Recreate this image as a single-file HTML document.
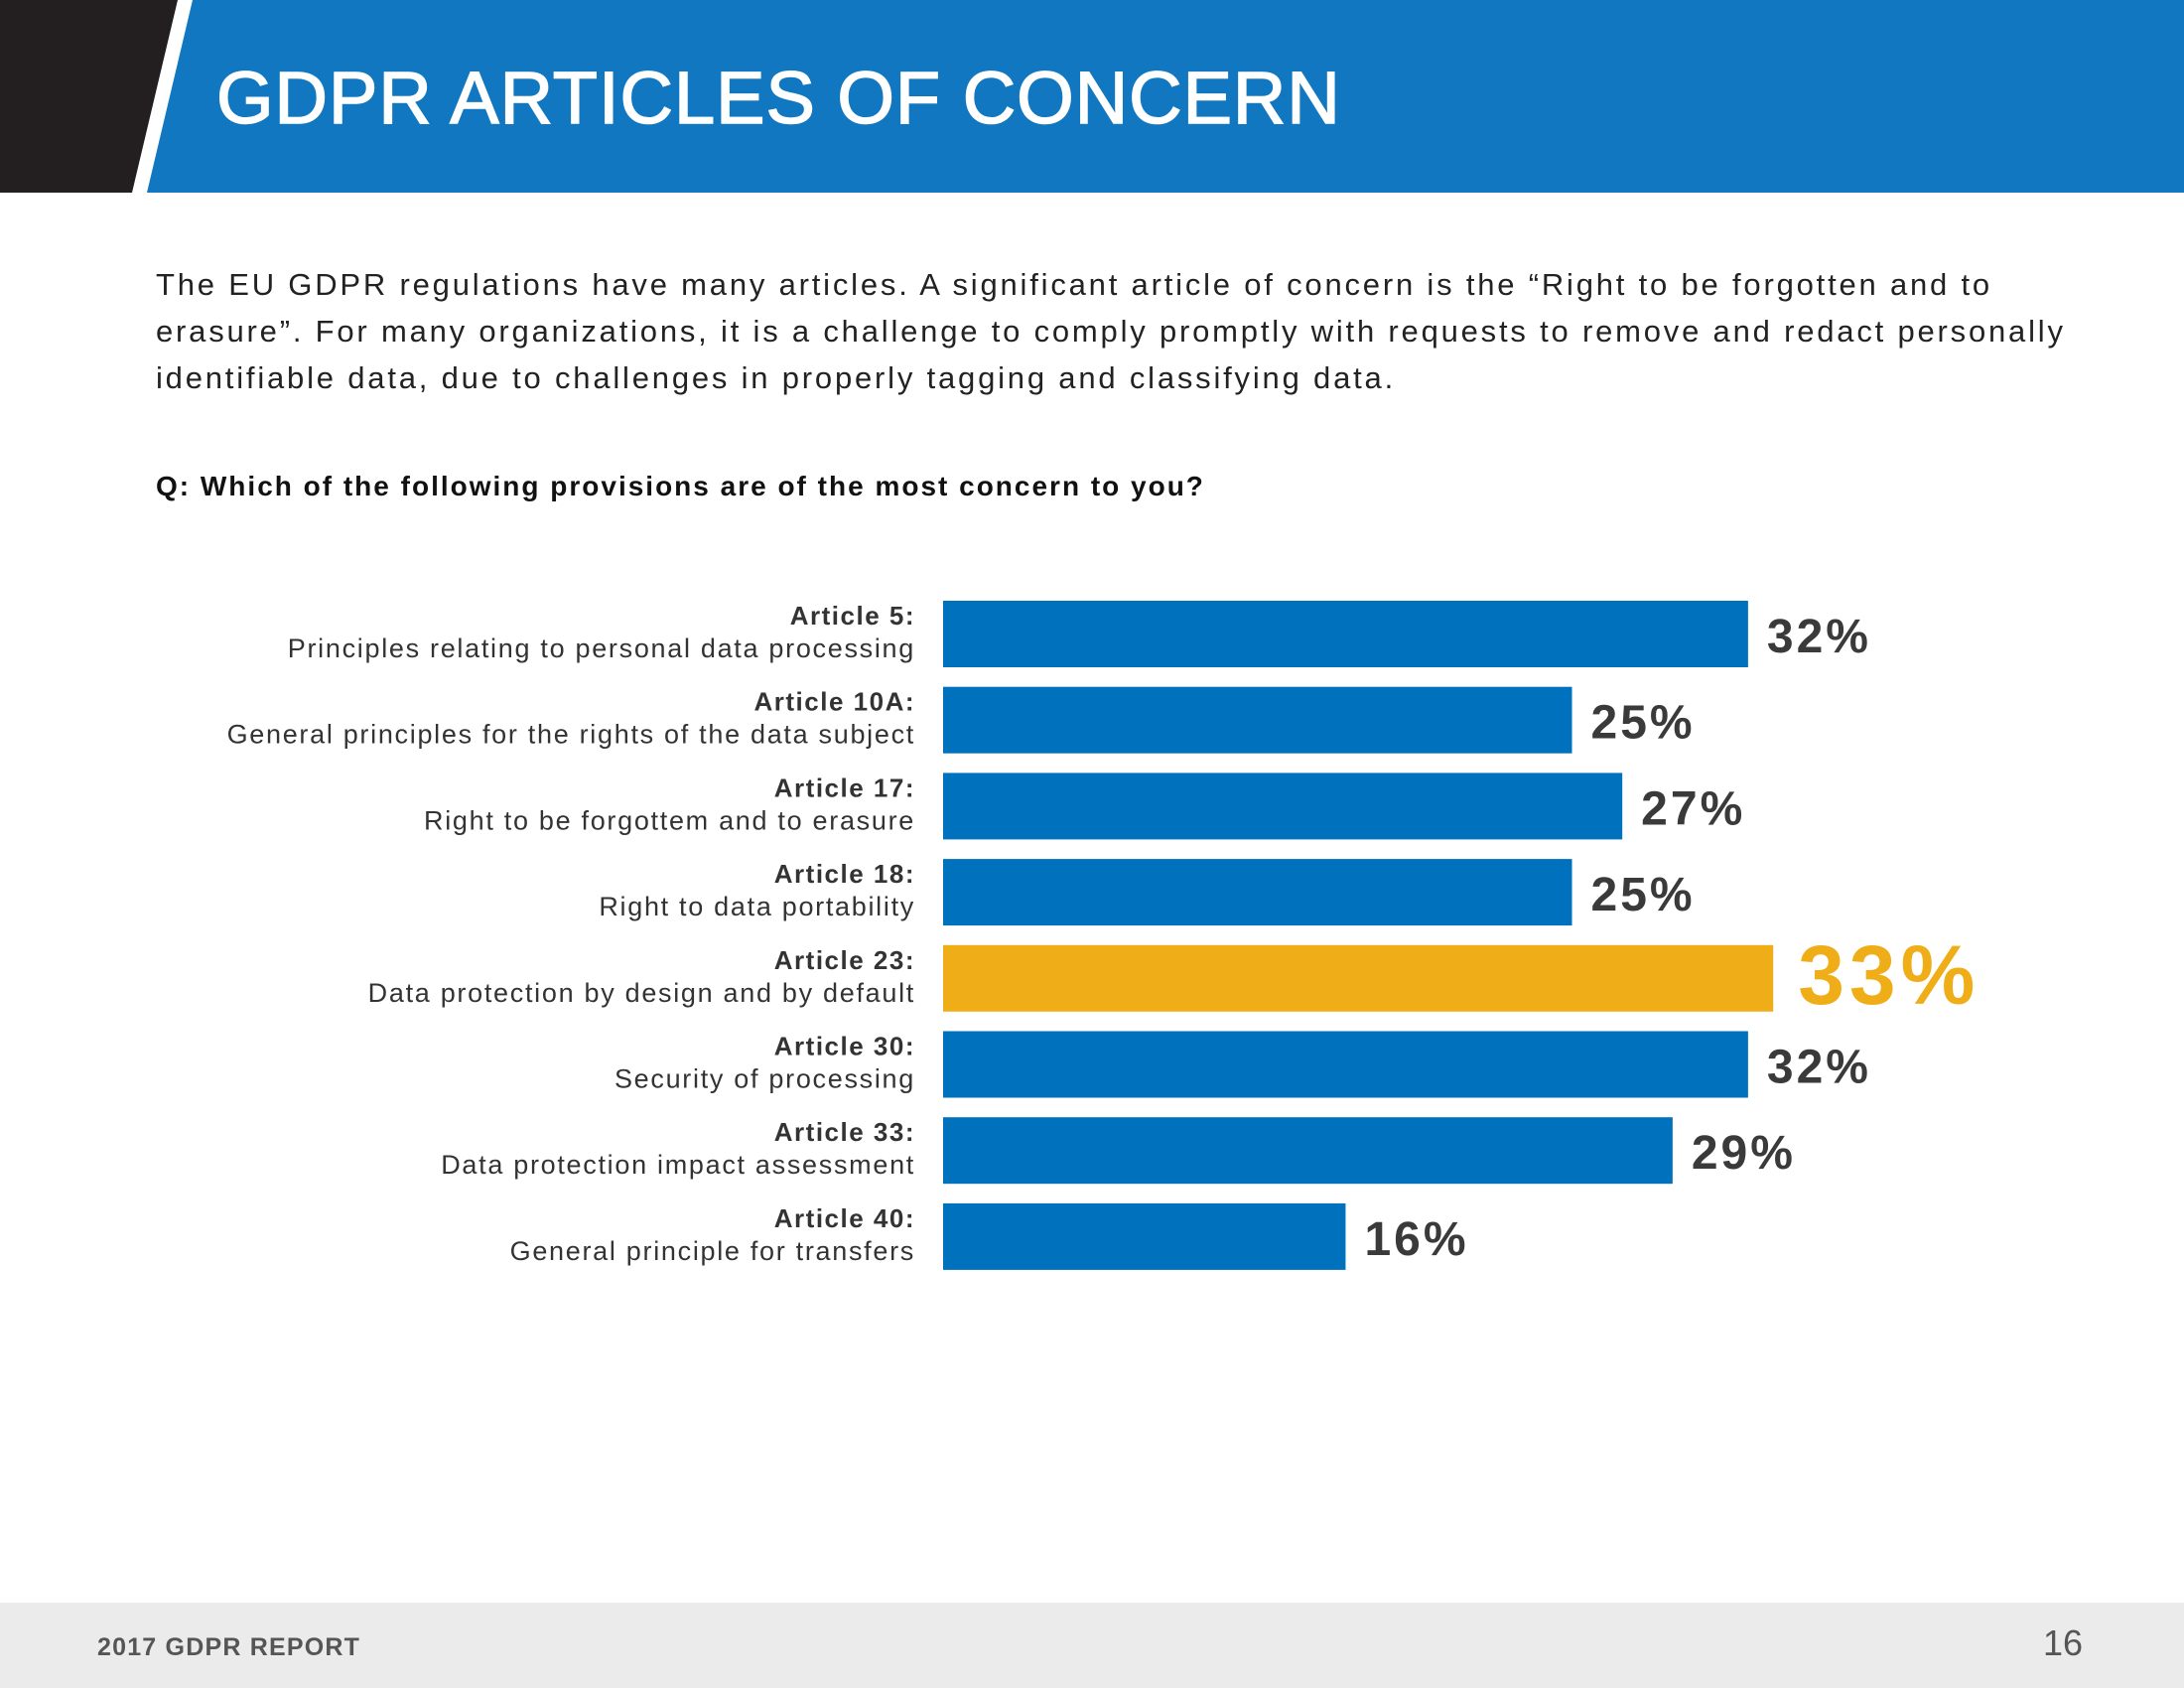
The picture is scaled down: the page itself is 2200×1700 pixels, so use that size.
<!DOCTYPE html>
<html><head><meta charset="utf-8"><style>
body{margin:0;width:2200px;height:1700px;position:relative;background:#fff;font-family:"Liberation Sans",sans-serif;overflow:hidden}
.abs{position:absolute}
</style></head><body>
<svg class="abs" style="left:0;top:0" width="2200" height="194">
<polygon points="0,0 179,0 133,194 0,194" fill="#231f20"/>
<polygon points="194,0 2200,0 2200,194 148,194" fill="#1077c0"/>
</svg>
<div class="abs" style="left:218px;top:54px;font-size:74px;color:#fff;letter-spacing:1px;line-height:90px;-webkit-text-stroke:1.5px #fff">GDPR ARTICLES OF CONCERN</div>
<div class="abs" style="left:157px;top:263px;width:2040px;font-size:31px;line-height:47px;color:#222;letter-spacing:2.8px;white-space:nowrap">The EU GDPR regulations have many articles. A significant article of concern is the “Right to be forgotten and to<br>erasure”. For many organizations, it is a challenge to comply promptly with requests to remove and redact personally<br>identifiable data, due to challenges in properly tagging and classifying data.</div>
<div class="abs" style="left:157px;top:474px;font-size:28px;font-weight:bold;color:#111;letter-spacing:2px">Q: Which of the following provisions are of the most concern to you?</div>
<svg id="chart" class="abs" style="left:0;top:0" width="2200" height="1400"></svg>
<div class="abs" style="left:0;top:1614px;width:2200px;height:86px;background:#ebebeb"></div>
<div class="abs" style="left:98px;top:1645px;font-size:25px;font-weight:bold;color:#555;letter-spacing:1.2px">2017 GDPR REPORT</div>
<div class="abs" style="right:102px;top:1634px;font-size:36px;color:#555">16</div>
<script>
const titles=["Article 5:","Article 10A:","Article 17:","Article 18:","Article 23:","Article 30:","Article 33:","Article 40:"];
const descs=["Principles relating to personal data processing","General principles for the rights of the data subject","Right to be forgottem and to erasure","Right to data portability","Data protection by design and by default","Security of processing","Data protection impact assessment","General principle for transfers"];
const values=[32,25,27,25,33,32,29,16];
const highlight=[false,false,false,false,true,false,false,false];
const svg=document.getElementById('chart');
const NS='http://www.w3.org/2000/svg';
const x0=950,perPct=25.34,top0=605,step=86.7,bh=67;
const xs=v=>x0+v*perPct;
const ys=i=>top0+i*step;
function t(x,y,s,attrs){const e=document.createElementNS(NS,'text');e.setAttribute('x',x);e.setAttribute('y',y);for(const k in attrs)e.setAttribute(k,attrs[k]);e.textContent=s;svg.appendChild(e);return e;}
values.forEach((v,i)=>{
 const y=ys(i);
 const r=document.createElementNS(NS,'rect');
 r.setAttribute('x',x0);r.setAttribute('y',y);r.setAttribute('width',xs(v)-x0);r.setAttribute('height',bh);
 r.setAttribute('fill',highlight[i]?'#efae17':'#0071bc');
 
 
 svg.appendChild(r);
 const a=t(922,y+24,titles[i],{'text-anchor':'end','font-size':26,'font-weight':'bold',fill:'#333','font-family':'Liberation Sans','letter-spacing':1.5});
 
 
 const d=t(922,y+57,descs[i],{'text-anchor':'end','font-size':27,fill:'#333','font-family':'Liberation Sans','letter-spacing':1.7});
 
 
 const hl=highlight[i];
 const l=t(xs(v)+(hl?25:19),y+(hl?59:52),v+'%',{'font-size':hl?84:48,'font-weight':'bold',fill:hl?'#efae17':'#3a3a3a','font-family':'Liberation Sans','letter-spacing':hl?5:3});
 
 
});
</script>
</body></html>
